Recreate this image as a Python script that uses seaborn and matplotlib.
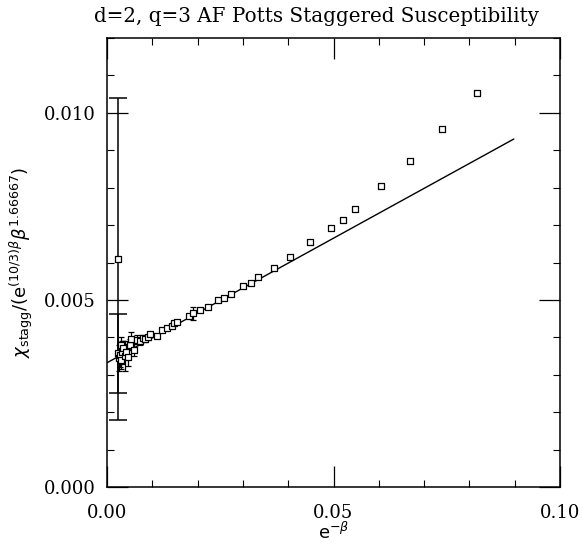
import numpy as np
import pandas as pd
import matplotlib
matplotlib.use("Agg")
import matplotlib.pyplot as plt
import seaborn as sns
from matplotlib.ticker import MultipleLocator, FormatStrFormatter

# ---- data ----
x_vals = [0.0025, 0.0025, 0.0026, 0.0028, 0.0030, 0.0031, 0.0034, 0.0036,
          0.0040, 0.0043, 0.0047, 0.0050, 0.0053, 0.0060, 0.0066, 0.0073,
          0.0079, 0.0084, 0.0090, 0.0095, 0.0110, 0.0121, 0.0133, 0.0143,
          0.0148, 0.0155, 0.0180, 0.0189, 0.0205, 0.0224, 0.0246, 0.0259,
          0.0273, 0.0301, 0.0317, 0.0333, 0.0369, 0.0405, 0.0448, 0.0495,
          0.0520, 0.0547, 0.0605, 0.0669, 0.0740, 0.0817]
y_vals = [0.00610, 0.00357, 0.00345, 0.00352, 0.00340, 0.00380, 0.00360, 0.00371,
          0.00350, 0.00362, 0.00348, 0.00380, 0.00396, 0.00366, 0.00393, 0.00389,
          0.00397, 0.00395, 0.00400, 0.00409, 0.00404, 0.00419, 0.00426, 0.00430,
          0.00437, 0.00440, 0.00457, 0.00464, 0.00473, 0.00481, 0.00499, 0.00506,
          0.00516, 0.00537, 0.00545, 0.00560, 0.00586, 0.00616, 0.00654, 0.00693,
          0.00713, 0.00744, 0.00805, 0.00872, 0.00957, 0.01054]
y_errs = [0.00430, 0.00106, 0.00035, 0.00030, 0.00025, 0.00020, 0.00030, 0.00020,
          0.00040, 0.00020, 0.00025, 0.00015, 0.00017, 0.00015, 0.00012, 0.00010,
          0.00008, 0.00008, 0.00006, 0.00006, 0.00005, 0.00005, 0.00005, 0.00005,
          0.00005, 0.00005, 0.00005, 0.00018, 0.00005, 0.00005, 0.00005, 0.00004,
          0.00004, 0.00004, 0.00004, 0.00004, 0.00004, 0.00004, 0.00004, 0.00004,
          0.00004, 0.00004, 0.00004, 0.00004, 0.00004, 0.00004]

fit_x = [0.0, 0.0898]
fit_y = [0.00332, 0.00930]

title_text = "d=2, q=3 AF Potts Staggered Susceptibility"
x_label = r"$\mathregular{e}^{-\beta}$"
y_label = r"$\chi_{\mathregular{stagg}}/(\mathregular{e}^{(10/3)\beta}\beta^{1.66667})$"

# ---- style ----
sns.set_style("ticks")
plt.rcParams["font.family"] = ["DejaVu Serif", "DejaVu Sans"]
plt.rcParams["mathtext.fontset"] = "dejavusans"
plt.rcParams["text.color"] = "black"
plt.rcParams["axes.labelcolor"] = "black"
plt.rcParams["xtick.color"] = "black"
plt.rcParams["ytick.color"] = "black"

df = pd.DataFrame({"x": x_vals, "y": y_vals, "err": y_errs})
big = df[df["err"] > 0.0005]
small = df[df["err"] <= 0.0005]

fig = plt.figure(figsize=(5.83, 5.44), dpi=100)
ax = fig.add_axes([107 / 583, 1 - 487 / 544, (560 - 107) / 583, (487 - 38) / 544])

ax.errorbar(small["x"], small["y"], yerr=small["err"], fmt="none",
            ecolor="black", elinewidth=0.9, capsize=2.5, capthick=0.9, zorder=2)
ax.errorbar(big["x"], big["y"], yerr=big["err"], fmt="none",
            ecolor="black", elinewidth=1.1, capsize=6.5, capthick=1.1, zorder=2)

sns.lineplot(x=fit_x, y=fit_y, ax=ax, color="black", linewidth=1.0, zorder=3)

sns.scatterplot(data=df, x="x", y="y", ax=ax, marker="s", s=16,
                facecolor="white", edgecolor="black", linewidth=0.9, zorder=4)

ax.set_xlim(0, 0.1)
ax.set_ylim(0, 0.012)
ax.xaxis.set_major_locator(MultipleLocator(0.05))
ax.xaxis.set_minor_locator(MultipleLocator(0.01))
ax.yaxis.set_major_locator(MultipleLocator(0.005))
ax.yaxis.set_minor_locator(MultipleLocator(0.001))
ax.xaxis.set_major_formatter(FormatStrFormatter("%.2f"))
ax.yaxis.set_major_formatter(FormatStrFormatter("%.3f"))

ax.tick_params(which="both", direction="in", top=True, right=True, colors="black")
ax.tick_params(which="major", length=15, width=0.9, labelsize=13)
ax.tick_params(which="minor", length=5, width=0.8)
ax.tick_params(axis="x", which="major", pad=12)
ax.tick_params(axis="y", which="major", pad=8)
for sp in ax.spines.values():
    sp.set_linewidth(1.1)
    sp.set_color("black")

ax.set_xlabel(x_label, fontsize=13, family="DejaVu Sans")
ax.xaxis.set_label_coords(0.5, -0.078)
ax.set_ylabel(y_label, fontsize=13, family="DejaVu Sans")
ax.yaxis.set_label_coords(-0.16, 0.5)

fig.text(317 / 583, 1 - 17 / 544, title_text, ha="center", va="center",
         fontsize=14.3, family="DejaVu Serif", color="black")

fig.savefig("out.png", dpi=100)
